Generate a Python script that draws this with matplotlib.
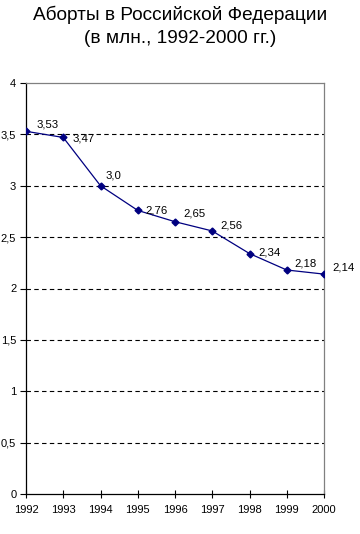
import matplotlib
matplotlib.use("Agg")
import matplotlib.pyplot as plt
from matplotlib.ticker import FuncFormatter

years = [1992, 1993, 1994, 1995, 1996, 1997, 1998, 1999, 2000]
abortions = [3.53, 3.47, 3.0, 2.76, 2.65, 2.56, 2.34, 2.18, 2.14]
labels = ["3,53", "3,47", "3,0", "2,76", "2,65", "2,56", "2,34", "2,18", "2,14"]
yticks = [0, 0.5, 1, 1.5, 2, 2.5, 3, 3.5, 4]
title = "Аборты в Российской Федерации\n(в млн., 1992-2000 гг.)"

# label offsets in pixels (style)
offsets = [(11, 7), (9, -1), (5, 10), (8, 0), (8, 8), (8, 5), (9, 1), (8, 7), (8, 7)]

plt.rcParams['font.family'] = ['Liberation Sans', 'DejaVu Sans']

fig = plt.figure(figsize=(3.6, 5.34), dpi=100)
ax = fig.add_axes([26/360, 1-494/534, (324-26)/360, (494-83)/534])

ax.plot(years, abortions, color='#000080', lw=0.9, marker='D', ms=3.5, zorder=3)
for x, y, t, (dx, dy) in zip(years, abortions, labels, offsets):
    ax.annotate(t, (x, y), xytext=(dx, dy), textcoords='offset pixels',
                ha='left', va='center', fontsize=8.2, color='black')

ax.set_xlim(years[0], years[-1])
ax.set_ylim(0, 4)
ax.set_xticks(years)
ax.set_yticks(yticks)
ax.yaxis.set_major_formatter(FuncFormatter(lambda v, p: ('%g' % v).replace('.', ',')))
for y in yticks[1:-1]:
    ax.axhline(y, color='black', lw=0.8, ls=(0, (4, 3)), zorder=1)

ax.spines['top'].set_color('#808080')
ax.spines['right'].set_color('#808080')
ax.spines['left'].set_color('black')
ax.spines['bottom'].set_color('black')
for s in ax.spines.values():
    s.set_linewidth(0.9)

ax.tick_params(axis='x', direction='inout', length=6, labelsize=8, pad=5)
ax.tick_params(axis='y', direction='out', length=4, labelsize=8, pad=3)

fig.suptitle(title, y=0.99, fontsize=13.7, linespacing=1.45)
fig.savefig("out.png", dpi=100, facecolor='white')
